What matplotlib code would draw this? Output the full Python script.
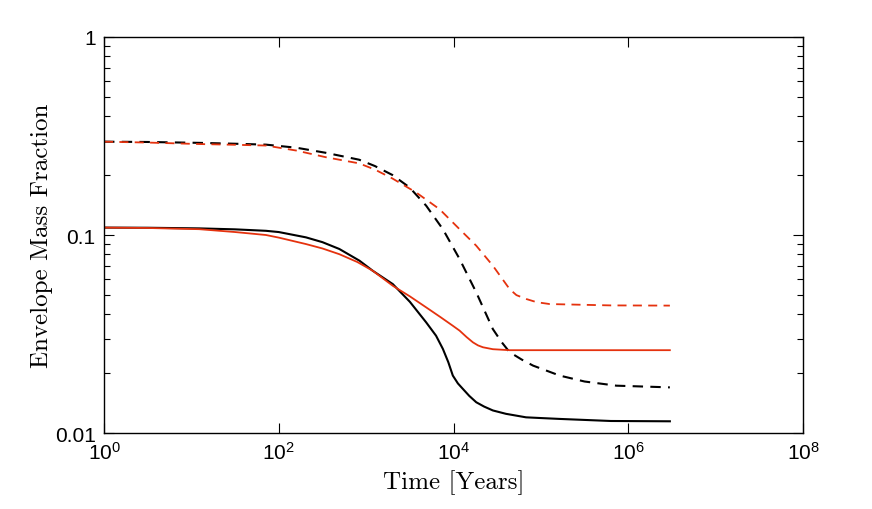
import matplotlib
matplotlib.use("Agg")
import matplotlib.pyplot as plt
import numpy as np
from matplotlib.ticker import FixedLocator, LogLocator, NullLocator, NullFormatter

plt.rcParams['mathtext.fontset'] = 'custom'
plt.rcParams['mathtext.rm'] = 'Liberation Sans'
plt.rcParams['mathtext.it'] = 'Liberation Sans'
plt.rcParams['font.family'] = ['Liberation Sans', 'DejaVu Sans']

# log10(time in years) and envelope mass fraction
t_solid_k = [0, 0.5, 1.089, 1.5, 1.853, 2.0, 2.311, 2.5, 2.693, 2.923, 3.075, 3.305, 3.5, 3.687, 3.8, 3.878, 3.94, 3.992, 4.05, 4.107, 4.18, 4.26, 4.35, 4.45, 4.6, 4.83, 5.0, 5.215, 5.8, 6.476]
f_solid_k = [0.109, 0.1088, 0.108, 0.1068, 0.105, 0.1035, 0.0973, 0.092, 0.085, 0.0742, 0.066, 0.0565, 0.046, 0.0362, 0.031, 0.0266, 0.0228, 0.0195, 0.0178, 0.0167, 0.0154, 0.0143, 0.0136, 0.0130, 0.0125, 0.0120, 0.0119, 0.01178, 0.0115, 0.01146]

t_solid_r = [0, 0.5, 1.089, 1.5, 1.853, 2.0, 2.311, 2.5, 2.693, 2.9, 3.075, 3.305, 3.5, 3.687, 3.85, 3.992, 4.069, 4.15, 4.222, 4.28, 4.337, 4.45, 4.642, 5.215, 6.476]
f_solid_r = [0.109, 0.1085, 0.107, 0.1035, 0.100, 0.097, 0.090, 0.0855, 0.080, 0.073, 0.066, 0.0554, 0.049, 0.0431, 0.0385, 0.0348, 0.0329, 0.0305, 0.0287, 0.0277, 0.0271, 0.0265, 0.0262, 0.0262, 0.0262]

t_dash_k = [0, 0.5, 1.089, 1.5, 1.853, 2.2, 2.54, 2.92, 3.1, 3.30, 3.496, 3.687, 3.878, 4.069, 4.26, 4.45, 4.55, 4.642, 4.78, 4.91, 5.215, 5.5, 5.864, 6.476]
f_dash_k = [0.296, 0.295, 0.292, 0.289, 0.286, 0.276, 0.260, 0.240, 0.223, 0.201, 0.174, 0.1406, 0.107, 0.0757, 0.0513, 0.0335, 0.0288, 0.0256, 0.0235, 0.0219, 0.0195, 0.0182, 0.01734, 0.0170]

t_dash_r = [0, 0.5, 1.089, 1.5, 1.853, 2.2, 2.54, 2.92, 3.1, 3.30, 3.572, 3.84, 4.069, 4.26, 4.45, 4.642, 4.72, 4.833, 4.95, 5.1, 5.8, 6.476]
f_dash_r = [0.296, 0.293, 0.288, 0.2855, 0.283, 0.267, 0.247, 0.230, 0.214, 0.193, 0.164, 0.135, 0.107, 0.0883, 0.070, 0.0533, 0.0497, 0.0475, 0.0458, 0.0448, 0.0441, 0.0440]

red = '#e5320e'

fig = plt.figure(figsize=(8.72, 5.10), dpi=100)
ax = fig.add_axes([0.1193, 0.149, 0.8016, 0.7765])

ax.plot(10 ** np.array(t_solid_k), f_solid_k, color='black', lw=1.5)
ax.plot(10 ** np.array(t_dash_k), f_dash_k, color='black', lw=1.5, dashes=(5, 3.5))
ax.plot(10 ** np.array(t_solid_r), f_solid_r, color=red, lw=1.3)
ax.plot(10 ** np.array(t_dash_r), f_dash_r, color=red, lw=1.3, dashes=(5, 3.5))

ax.set_xscale('log')
ax.set_yscale('log')
ax.set_xlim(1, 1e8)
ax.set_ylim(0.01, 1)

ax.xaxis.set_major_locator(FixedLocator([1, 1e2, 1e4, 1e6, 1e8]))
ax.xaxis.set_minor_locator(NullLocator())
ax.set_xticklabels([r'$10^{0}$', r'$10^{2}$', r'$10^{4}$', r'$10^{6}$', r'$10^{8}$'])
ax.yaxis.set_major_locator(FixedLocator([0.01, 0.1, 1]))
ax.yaxis.set_minor_locator(LogLocator(base=10, subs=np.arange(2, 10)))
ax.set_yticklabels(['0.01', '0.1', '1'])
ax.yaxis.set_minor_formatter(NullFormatter())

ax.tick_params(which='both', direction='in', top=True, right=True, labelsize=15, pad=6)
ax.tick_params(which='major', length=7, width=0.8)
ax.tick_params(which='minor', length=4, width=0.8)
for s in ax.spines.values():
    s.set_linewidth(1.0)

ax.set_xlabel('Time [Years]', family='cmr10', fontsize=18, labelpad=4)
ax.set_ylabel('Envelope Mass Fraction', family='cmr10', fontsize=18, labelpad=1)

fig.savefig('out.png', dpi=100)
